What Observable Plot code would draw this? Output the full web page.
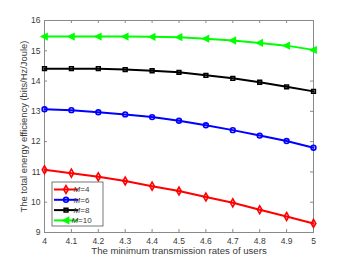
<!DOCTYPE html>
<html><head><meta charset="utf-8">
<script src="https://cdn.jsdelivr.net/npm/d3@7"></script>
<script src="https://cdn.jsdelivr.net/npm/@observablehq/plot@0.6"></script>
<style>body{margin:0;background:#fff;} svg{display:block;}</style>
</head><body><div id="chart"></div>
<script>
const rates = [4, 4.1, 4.2, 4.3, 4.4, 4.5, 4.6, 4.7, 4.8, 4.9, 5];
const m4  = [11.07, 10.96, 10.84, 10.70, 10.53, 10.37, 10.17, 9.98, 9.75, 9.53, 9.30];
const m6  = [13.07, 13.04, 12.97, 12.90, 12.81, 12.69, 12.54, 12.38, 12.20, 12.02, 11.80];
const m8  = [14.41, 14.41, 14.41, 14.38, 14.34, 14.29, 14.19, 14.09, 13.96, 13.81, 13.66];
const m10 = [15.47, 15.47, 15.47, 15.47, 15.46, 15.45, 15.40, 15.34, 15.26, 15.17, 15.03];
const seriesNames = ["4", "6", "8", "10"];
const seriesValues = [m4, m6, m8, m10];
const colors = ["#ff0000", "#0000ff", "#000000", "#00ff00"];
const xTicks = [4, 4.1, 4.2, 4.3, 4.4, 4.5, 4.6, 4.7, 4.8, 4.9, 5];
const yTicks = [9, 10, 11, 12, 13, 14, 15, 16];
const xLabel = "The minimum transmission rates of users";
const yLabel = "The total energy efficiency (bits/Hz/Joule)";

const triLeft = {draw(ctx, size) {
  const s = Math.sqrt(size) * 0.5;
  ctx.moveTo(-s, 0); ctx.lineTo(s * 0.9, -s); ctx.lineTo(s * 0.9, s); ctx.closePath();
}};
const symbols = [d3.symbolDiamond, d3.symbolCircle, d3.symbolSquare, triLeft];
const fills = ["none", "none", "none", "#00ff00"];
const sizes = [2.4, 2.4, 2.1, 3.2];

const W = 346, H = 261, mL = 44, mR = 33, mT = 20, mB = 29;
const pw = W - mL - mR, ph = H - mT - mB;
const axisColor = "#8a8a8a";
const textColor = "#3a3a3a";

const data = [];
seriesValues.forEach((vals, i) => vals.forEach((v, j) => data.push({s: i, x: rates[j], y: v})));

const marks = [
  Plot.frame({stroke: axisColor, strokeWidth: 1}),
  Plot.tickX(xTicks, {x: d => d, stroke: axisColor, insetTop: ph - 3}),
  Plot.tickX(xTicks, {x: d => d, stroke: axisColor, insetBottom: ph - 3}),
  Plot.tickY(yTicks, {y: d => d, stroke: axisColor, insetRight: pw - 3}),
  Plot.tickY(yTicks, {y: d => d, stroke: axisColor, insetLeft: pw - 3}),
  Plot.axisX({ticks: xTicks, tickSize: 0, tickPadding: 5, tickFormat: d => String(d), label: null, fontSize: 8.5, color: textColor}),
  Plot.axisY({ticks: yTicks, tickSize: 0, tickPadding: 4, tickFormat: d => String(d), label: null, fontSize: 8.5, color: textColor}),
  Plot.text([xLabel], {frameAnchor: "bottom", dy: 21, text: d => d, fontSize: 9.6, fill: textColor}),
  Plot.text([yLabel], {frameAnchor: "left", dx: -21, rotate: -90, textAnchor: "middle", text: d => d, fontSize: 9.4, fill: textColor})
];
seriesValues.forEach((vals, i) => {
  const d = data.filter(e => e.s === i);
  marks.push(Plot.line(d, {x: "x", y: "y", stroke: colors[i], strokeWidth: 2}));
  marks.push(Plot.dot(d, {x: "x", y: "y", stroke: colors[i], fill: fills[i], strokeWidth: 1.6, symbol: symbols[i], r: sizes[i]}));
});

const plot = Plot.plot({
  width: W, height: H, marginLeft: mL, marginRight: mR, marginTop: mT, marginBottom: mB,
  style: {fontFamily: "Liberation Sans, Arial, sans-serif", background: "#fff", overflow: "visible"},
  x: {domain: [4, 5]},
  y: {domain: [9, 16]},
  marks
});
document.getElementById("chart").appendChild(plot);

// legend inside plot, lower left
const svg = d3.select(plot);
const lx = mL + 8, ly = mT + ph - 50, lw = 51, lh = 44;
const g = svg.append("g").attr("font-family", "Liberation Sans, Arial, sans-serif");
g.append("rect").attr("x", lx).attr("y", ly).attr("width", lw).attr("height", lh)
  .attr("fill", "#fff").attr("stroke", "#555").attr("stroke-width", 0.8);
seriesNames.forEach((n, i) => {
  const yy = ly + 7.5 + i * 10.3;
  g.append("line").attr("x1", lx + 2).attr("x2", lx + 26).attr("y1", yy).attr("y2", yy)
    .attr("stroke", colors[i]).attr("stroke-width", 2);
  const sym = d3.symbol(symbols[i], Math.PI * sizes[i] * sizes[i]);
  g.append("path").attr("d", sym()).attr("transform", `translate(${lx + 14},${yy})`)
    .attr("stroke", colors[i]).attr("fill", fills[i]).attr("stroke-width", 1.6);
  const t = g.append("text").attr("x", lx + 29.5).attr("y", yy).attr("dy", "0.35em")
    .attr("font-size", 8).attr("fill", textColor);
  t.append("tspan").attr("font-style", "italic").text("M");
  t.append("tspan").text("=" + n);
});
</script></body></html>
